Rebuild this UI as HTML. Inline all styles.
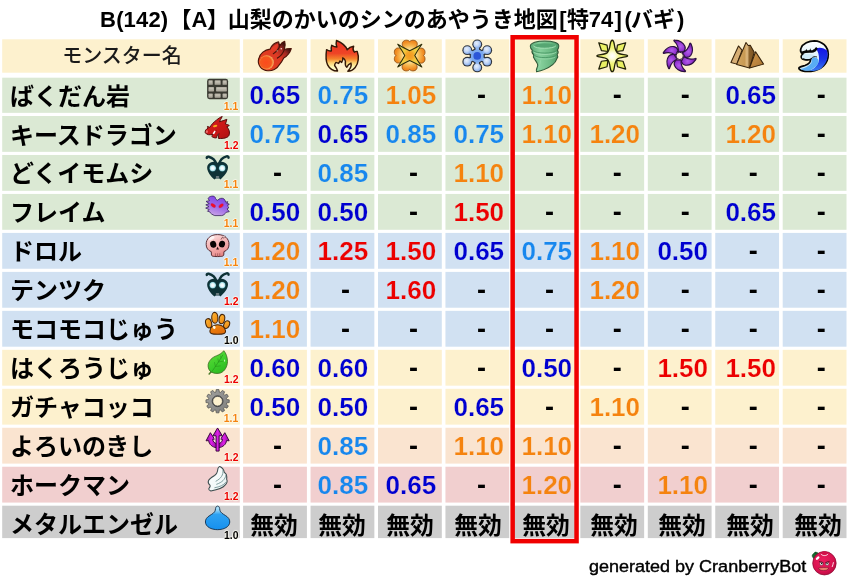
<!DOCTYPE html>
<html lang="ja"><head><meta charset="utf-8"><title>B(142)</title>
<style>
html,body{margin:0;padding:0;background:#fff;}
body{width:849px;height:583px;position:relative;overflow:hidden;font-family:"Liberation Sans","Noto Sans CJK JP",sans-serif;}
.c{position:absolute;}
.t{position:absolute;white-space:nowrap;line-height:1;}
.title{font-weight:700;font-size:22px;color:#000;}
.title span{display:inline-block;}
.hn{font-weight:500;font-size:20px;color:#1a1a1a;}
.nm{font-weight:700;font-size:24px;color:#000;}
.v{font-weight:700;font-size:26.05px;letter-spacing:-0.03px;}
.d{font-weight:700;font-size:27px;color:#000;}
.mk{font-weight:700;font-size:23.8px;color:#000;}
.lv{font-weight:700;font-size:10.4px;letter-spacing:0px;text-shadow:0 0 1px #fffdf0,0 0 1px #fffdf0,0 0 1.5px #fffdf0,0 0 1.5px #fffdf0,0 0 2px #fffdf0,0 0 2px #fffdf0;}
.ic{position:absolute;display:block;overflow:visible;}
.gen{font-weight:400;font-size:16.7px;color:#000;}
</style></head><body>
<svg class="ic" style="left:0;top:0" width="849" height="583" viewBox="0 0 849 583"><rect x="2.20" y="39.30" width="237.60" height="33.40" fill="#fdf1ce"/><rect x="243.10" y="39.30" width="63.80" height="33.40" fill="#fdf1ce"/><rect x="310.55" y="39.30" width="63.80" height="33.40" fill="#fdf1ce"/><rect x="378.00" y="39.30" width="63.80" height="33.40" fill="#fdf1ce"/><rect x="445.45" y="39.30" width="63.80" height="33.40" fill="#fdf1ce"/><rect x="512.90" y="39.30" width="63.80" height="33.40" fill="#fdf1ce"/><rect x="580.35" y="39.30" width="63.80" height="33.40" fill="#fdf1ce"/><rect x="647.80" y="39.30" width="63.80" height="33.40" fill="#fdf1ce"/><rect x="715.25" y="39.30" width="63.80" height="33.40" fill="#fdf1ce"/><rect x="782.70" y="39.30" width="63.80" height="33.40" fill="#fdf1ce"/><rect x="2.20" y="77.70" width="237.60" height="35.15" fill="#dbe9d4"/><rect x="243.10" y="77.70" width="63.80" height="35.15" fill="#dbe9d4"/><rect x="310.55" y="77.70" width="63.80" height="35.15" fill="#dbe9d4"/><rect x="378.00" y="77.70" width="63.80" height="35.15" fill="#dbe9d4"/><rect x="445.45" y="77.70" width="63.80" height="35.15" fill="#dbe9d4"/><rect x="512.90" y="77.70" width="63.80" height="35.15" fill="#dbe9d4"/><rect x="580.35" y="77.70" width="63.80" height="35.15" fill="#dbe9d4"/><rect x="647.80" y="77.70" width="63.80" height="35.15" fill="#dbe9d4"/><rect x="715.25" y="77.70" width="63.80" height="35.15" fill="#dbe9d4"/><rect x="782.70" y="77.70" width="63.80" height="35.15" fill="#dbe9d4"/><rect x="2.20" y="116.00" width="237.60" height="35.85" fill="#dbe9d4"/><rect x="243.10" y="116.00" width="63.80" height="35.85" fill="#dbe9d4"/><rect x="310.55" y="116.00" width="63.80" height="35.85" fill="#dbe9d4"/><rect x="378.00" y="116.00" width="63.80" height="35.85" fill="#dbe9d4"/><rect x="445.45" y="116.00" width="63.80" height="35.85" fill="#dbe9d4"/><rect x="512.90" y="116.00" width="63.80" height="35.85" fill="#dbe9d4"/><rect x="580.35" y="116.00" width="63.80" height="35.85" fill="#dbe9d4"/><rect x="647.80" y="116.00" width="63.80" height="35.85" fill="#dbe9d4"/><rect x="715.25" y="116.00" width="63.80" height="35.85" fill="#dbe9d4"/><rect x="782.70" y="116.00" width="63.80" height="35.85" fill="#dbe9d4"/><rect x="2.20" y="154.97" width="237.60" height="35.85" fill="#dbe9d4"/><rect x="243.10" y="154.97" width="63.80" height="35.85" fill="#dbe9d4"/><rect x="310.55" y="154.97" width="63.80" height="35.85" fill="#dbe9d4"/><rect x="378.00" y="154.97" width="63.80" height="35.85" fill="#dbe9d4"/><rect x="445.45" y="154.97" width="63.80" height="35.85" fill="#dbe9d4"/><rect x="512.90" y="154.97" width="63.80" height="35.85" fill="#dbe9d4"/><rect x="580.35" y="154.97" width="63.80" height="35.85" fill="#dbe9d4"/><rect x="647.80" y="154.97" width="63.80" height="35.85" fill="#dbe9d4"/><rect x="715.25" y="154.97" width="63.80" height="35.85" fill="#dbe9d4"/><rect x="782.70" y="154.97" width="63.80" height="35.85" fill="#dbe9d4"/><rect x="2.20" y="193.94" width="237.60" height="35.85" fill="#dbe9d4"/><rect x="243.10" y="193.94" width="63.80" height="35.85" fill="#dbe9d4"/><rect x="310.55" y="193.94" width="63.80" height="35.85" fill="#dbe9d4"/><rect x="378.00" y="193.94" width="63.80" height="35.85" fill="#dbe9d4"/><rect x="445.45" y="193.94" width="63.80" height="35.85" fill="#dbe9d4"/><rect x="512.90" y="193.94" width="63.80" height="35.85" fill="#dbe9d4"/><rect x="580.35" y="193.94" width="63.80" height="35.85" fill="#dbe9d4"/><rect x="647.80" y="193.94" width="63.80" height="35.85" fill="#dbe9d4"/><rect x="715.25" y="193.94" width="63.80" height="35.85" fill="#dbe9d4"/><rect x="782.70" y="193.94" width="63.80" height="35.85" fill="#dbe9d4"/><rect x="2.20" y="232.91" width="237.60" height="35.85" fill="#d1e1f2"/><rect x="243.10" y="232.91" width="63.80" height="35.85" fill="#d1e1f2"/><rect x="310.55" y="232.91" width="63.80" height="35.85" fill="#d1e1f2"/><rect x="378.00" y="232.91" width="63.80" height="35.85" fill="#d1e1f2"/><rect x="445.45" y="232.91" width="63.80" height="35.85" fill="#d1e1f2"/><rect x="512.90" y="232.91" width="63.80" height="35.85" fill="#d1e1f2"/><rect x="580.35" y="232.91" width="63.80" height="35.85" fill="#d1e1f2"/><rect x="647.80" y="232.91" width="63.80" height="35.85" fill="#d1e1f2"/><rect x="715.25" y="232.91" width="63.80" height="35.85" fill="#d1e1f2"/><rect x="782.70" y="232.91" width="63.80" height="35.85" fill="#d1e1f2"/><rect x="2.20" y="271.88" width="237.60" height="35.85" fill="#d1e1f2"/><rect x="243.10" y="271.88" width="63.80" height="35.85" fill="#d1e1f2"/><rect x="310.55" y="271.88" width="63.80" height="35.85" fill="#d1e1f2"/><rect x="378.00" y="271.88" width="63.80" height="35.85" fill="#d1e1f2"/><rect x="445.45" y="271.88" width="63.80" height="35.85" fill="#d1e1f2"/><rect x="512.90" y="271.88" width="63.80" height="35.85" fill="#d1e1f2"/><rect x="580.35" y="271.88" width="63.80" height="35.85" fill="#d1e1f2"/><rect x="647.80" y="271.88" width="63.80" height="35.85" fill="#d1e1f2"/><rect x="715.25" y="271.88" width="63.80" height="35.85" fill="#d1e1f2"/><rect x="782.70" y="271.88" width="63.80" height="35.85" fill="#d1e1f2"/><rect x="2.20" y="310.85" width="237.60" height="35.85" fill="#d1e1f2"/><rect x="243.10" y="310.85" width="63.80" height="35.85" fill="#d1e1f2"/><rect x="310.55" y="310.85" width="63.80" height="35.85" fill="#d1e1f2"/><rect x="378.00" y="310.85" width="63.80" height="35.85" fill="#d1e1f2"/><rect x="445.45" y="310.85" width="63.80" height="35.85" fill="#d1e1f2"/><rect x="512.90" y="310.85" width="63.80" height="35.85" fill="#d1e1f2"/><rect x="580.35" y="310.85" width="63.80" height="35.85" fill="#d1e1f2"/><rect x="647.80" y="310.85" width="63.80" height="35.85" fill="#d1e1f2"/><rect x="715.25" y="310.85" width="63.80" height="35.85" fill="#d1e1f2"/><rect x="782.70" y="310.85" width="63.80" height="35.85" fill="#d1e1f2"/><rect x="2.20" y="349.82" width="237.60" height="35.85" fill="#fdf1ce"/><rect x="243.10" y="349.82" width="63.80" height="35.85" fill="#fdf1ce"/><rect x="310.55" y="349.82" width="63.80" height="35.85" fill="#fdf1ce"/><rect x="378.00" y="349.82" width="63.80" height="35.85" fill="#fdf1ce"/><rect x="445.45" y="349.82" width="63.80" height="35.85" fill="#fdf1ce"/><rect x="512.90" y="349.82" width="63.80" height="35.85" fill="#fdf1ce"/><rect x="580.35" y="349.82" width="63.80" height="35.85" fill="#fdf1ce"/><rect x="647.80" y="349.82" width="63.80" height="35.85" fill="#fdf1ce"/><rect x="715.25" y="349.82" width="63.80" height="35.85" fill="#fdf1ce"/><rect x="782.70" y="349.82" width="63.80" height="35.85" fill="#fdf1ce"/><rect x="2.20" y="388.79" width="237.60" height="35.85" fill="#fdf1ce"/><rect x="243.10" y="388.79" width="63.80" height="35.85" fill="#fdf1ce"/><rect x="310.55" y="388.79" width="63.80" height="35.85" fill="#fdf1ce"/><rect x="378.00" y="388.79" width="63.80" height="35.85" fill="#fdf1ce"/><rect x="445.45" y="388.79" width="63.80" height="35.85" fill="#fdf1ce"/><rect x="512.90" y="388.79" width="63.80" height="35.85" fill="#fdf1ce"/><rect x="580.35" y="388.79" width="63.80" height="35.85" fill="#fdf1ce"/><rect x="647.80" y="388.79" width="63.80" height="35.85" fill="#fdf1ce"/><rect x="715.25" y="388.79" width="63.80" height="35.85" fill="#fdf1ce"/><rect x="782.70" y="388.79" width="63.80" height="35.85" fill="#fdf1ce"/><rect x="2.20" y="427.76" width="237.60" height="35.85" fill="#fae4d0"/><rect x="243.10" y="427.76" width="63.80" height="35.85" fill="#fae4d0"/><rect x="310.55" y="427.76" width="63.80" height="35.85" fill="#fae4d0"/><rect x="378.00" y="427.76" width="63.80" height="35.85" fill="#fae4d0"/><rect x="445.45" y="427.76" width="63.80" height="35.85" fill="#fae4d0"/><rect x="512.90" y="427.76" width="63.80" height="35.85" fill="#fae4d0"/><rect x="580.35" y="427.76" width="63.80" height="35.85" fill="#fae4d0"/><rect x="647.80" y="427.76" width="63.80" height="35.85" fill="#fae4d0"/><rect x="715.25" y="427.76" width="63.80" height="35.85" fill="#fae4d0"/><rect x="782.70" y="427.76" width="63.80" height="35.85" fill="#fae4d0"/><rect x="2.20" y="466.73" width="237.60" height="35.85" fill="#f1cfcf"/><rect x="243.10" y="466.73" width="63.80" height="35.85" fill="#f1cfcf"/><rect x="310.55" y="466.73" width="63.80" height="35.85" fill="#f1cfcf"/><rect x="378.00" y="466.73" width="63.80" height="35.85" fill="#f1cfcf"/><rect x="445.45" y="466.73" width="63.80" height="35.85" fill="#f1cfcf"/><rect x="512.90" y="466.73" width="63.80" height="35.85" fill="#f1cfcf"/><rect x="580.35" y="466.73" width="63.80" height="35.85" fill="#f1cfcf"/><rect x="647.80" y="466.73" width="63.80" height="35.85" fill="#f1cfcf"/><rect x="715.25" y="466.73" width="63.80" height="35.85" fill="#f1cfcf"/><rect x="782.70" y="466.73" width="63.80" height="35.85" fill="#f1cfcf"/><rect x="2.20" y="505.70" width="237.60" height="32.40" fill="#cdcdcd"/><rect x="243.10" y="505.70" width="63.80" height="32.40" fill="#cdcdcd"/><rect x="310.55" y="505.70" width="63.80" height="32.40" fill="#cdcdcd"/><rect x="378.00" y="505.70" width="63.80" height="32.40" fill="#cdcdcd"/><rect x="445.45" y="505.70" width="63.80" height="32.40" fill="#cdcdcd"/><rect x="512.90" y="505.70" width="63.80" height="32.40" fill="#cdcdcd"/><rect x="580.35" y="505.70" width="63.80" height="32.40" fill="#cdcdcd"/><rect x="647.80" y="505.70" width="63.80" height="32.40" fill="#cdcdcd"/><rect x="715.25" y="505.70" width="63.80" height="32.40" fill="#cdcdcd"/><rect x="782.70" y="505.70" width="63.80" height="32.40" fill="#cdcdcd"/></svg>
<div class="t title" style="left:100.10px;top:8.60px"><span style="width:69.40px;letter-spacing:0.15px">B(142)</span><span style="width:22.00px;">【</span><span style="width:15.35px;">A</span><span style="width:20.95px;">】</span><span style="width:331.55px;">山梨のかいのシンのあやうき地図</span><span style="width:7.65px;">[</span><span style="width:21.80px;">特</span><span style="width:25.85px;">74</span><span style="width:9.85px;">]</span><span style="width:6.50px;">(</span><span style="width:46.15px;">バギ</span><span>)</span></div>
<div class="t hn" style="left:62.25px;top:46.40px;">モンスター名</div>
<svg class="ic" style="left:250.00px;top:36.00px" width="50" height="40" viewBox="0 0 729 583"><defs> <radialGradient id="fbA" cx="0.45" cy="0.5" r="0.55"><stop offset="0" stop-color="#fb4a1c"/><stop offset="0.7" stop-color="#f4581e"/><stop offset="0.9" stop-color="#f6a050"/><stop offset="1" stop-color="#f2b070"/></radialGradient> <linearGradient id="fbB" x1="0.1" y1="0.9" x2="0.95" y2="0.1"><stop offset="0" stop-color="#e8401e"/><stop offset="0.55" stop-color="#dc3a24"/><stop offset="0.75" stop-color="#a02820"/><stop offset="0.92" stop-color="#2a0e0c"/></linearGradient> </defs> <path d="M126 335 C140 250 220 200 292 192 C318 132 368 96 416 86 C420 108 426 124 436 136 C452 112 478 88 506 78 C518 118 512 160 500 196 C530 186 566 182 602 184 C584 242 542 292 492 322 C468 372 444 402 424 424 C396 482 322 512 258 506 C166 498 104 420 126 335 Z" fill="url(#fbB)" stroke="#4e160a" stroke-width="17" stroke-linejoin="round"/> <path d="M296 210 C322 160 366 122 408 104 C412 140 402 180 378 222 Z" fill="#e43c26"/> <path d="M436 138 C422 184 392 224 340 258" fill="none" stroke="#4a140a" stroke-width="17" stroke-linecap="round"/> <path d="M500 198 C486 244 456 286 400 322" fill="none" stroke="#4a140a" stroke-width="17" stroke-linecap="round"/> <circle cx="243" cy="385" r="104" fill="url(#fbA)"/> <circle cx="456" cy="186" r="12" fill="#f2d8d0"/><circle cx="396" cy="216" r="10" fill="#d8b0a8"/></svg>
<svg class="ic" style="left:318.00px;top:36.00px" width="50" height="40" viewBox="0 0 729 583"><defs><linearGradient id="flA" x1="0" y1="65" x2="0" y2="515" gradientUnits="userSpaceOnUse"><stop offset="0" stop-color="#ee3322"/><stop offset="0.42" stop-color="#ee4426"/><stop offset="0.6" stop-color="#f4842c"/><stop offset="0.72" stop-color="#fbd070"/><stop offset="0.85" stop-color="#fdf6b0"/><stop offset="1" stop-color="#ffffd8"/></linearGradient></defs> <path d="M270 65 C330 90 400 130 425 200 C450 170 480 155 520 150 C505 180 510 210 530 235 C545 225 560 222 572 225 C600 300 592 400 542 460 C512 495 470 515 435 515 C470 480 495 440 480 395 C455 405 430 430 420 455 C400 440 395 400 400 370 C395 345 380 325 362 318 C365 345 355 370 345 385 L320 365 L300 400 L262 385 C250 400 240 415 242 430 C260 455 280 480 285 510 C230 510 170 480 140 420 C110 360 115 270 125 200 C150 215 175 225 195 215 C190 185 190 160 200 135 C225 150 250 160 275 160 C262 130 262 95 270 65 Z" fill="url(#flA)" stroke="#341808" stroke-width="21" stroke-linejoin="round"/></svg>
<svg class="ic" style="left:385.00px;top:36.00px" width="50" height="40" viewBox="0 0 729 583"><defs> <radialGradient id="clA" cx="360" cy="285" r="240" gradientUnits="userSpaceOnUse"><stop offset="0.3" stop-color="#fdf0b0"/><stop offset="0.6" stop-color="#f8b850"/><stop offset="0.85" stop-color="#f08a20"/><stop offset="1" stop-color="#ee8418"/></radialGradient> <radialGradient id="clB" cx="360" cy="285" r="200" gradientUnits="userSpaceOnUse"><stop offset="0" stop-color="#f39a20"/><stop offset="0.25" stop-color="#f4a428"/><stop offset="0.5" stop-color="#f2cc40"/><stop offset="1" stop-color="#e4d860"/></radialGradient> </defs> <path transform="rotate(0 360 285)" d="M360 232 C296 196 244 152 252 108 C258 58 330 46 360 82 C392 46 464 58 470 108 C478 152 426 196 360 232 Z" fill="url(#clA)" stroke="#8a4c12" stroke-width="12" stroke-linejoin="round"/><path transform="rotate(90 360 285)" d="M360 232 C296 196 244 152 252 108 C258 58 330 46 360 82 C392 46 464 58 470 108 C478 152 426 196 360 232 Z" fill="url(#clA)" stroke="#8a4c12" stroke-width="12" stroke-linejoin="round"/><path transform="rotate(180 360 285)" d="M360 232 C296 196 244 152 252 108 C258 58 330 46 360 82 C392 46 464 58 470 108 C478 152 426 196 360 232 Z" fill="url(#clA)" stroke="#8a4c12" stroke-width="12" stroke-linejoin="round"/><path transform="rotate(270 360 285)" d="M360 232 C296 196 244 152 252 108 C258 58 330 46 360 82 C392 46 464 58 470 108 C478 152 426 196 360 232 Z" fill="url(#clA)" stroke="#8a4c12" stroke-width="12" stroke-linejoin="round"/> <path d="M185 120 Q280 180 360 214 Q440 180 538 120 Q470 215 434 285 Q470 355 538 452 Q440 390 360 356 Q280 390 185 452 Q252 355 288 285 Q252 215 185 120 Z" fill="url(#clB)" stroke="#2c2c08" stroke-width="15" stroke-linejoin="round"/></svg>
<svg class="ic" style="left:452.00px;top:36.00px" width="50" height="40" viewBox="0 0 729 583"><defs><radialGradient id="icA" cx="0.4" cy="0.35" r="0.7"><stop offset="0" stop-color="#e6effc"/><stop offset="0.5" stop-color="#c2d6f6"/><stop offset="1" stop-color="#7ea8ec"/></radialGradient></defs><line x1="368" y1="290" x2="368" y2="122" stroke="#30343c" stroke-width="84"/><circle cx="368" cy="122" r="72" fill="#30343c"/><line x1="368" y1="290" x2="513" y2="206" stroke="#30343c" stroke-width="84"/><circle cx="513" cy="206" r="72" fill="#30343c"/><line x1="368" y1="290" x2="513" y2="374" stroke="#30343c" stroke-width="84"/><circle cx="513" cy="374" r="72" fill="#30343c"/><line x1="368" y1="290" x2="368" y2="458" stroke="#30343c" stroke-width="84"/><circle cx="368" cy="458" r="72" fill="#30343c"/><line x1="368" y1="290" x2="223" y2="374" stroke="#30343c" stroke-width="84"/><circle cx="223" cy="374" r="72" fill="#30343c"/><line x1="368" y1="290" x2="223" y2="206" stroke="#30343c" stroke-width="84"/><circle cx="223" cy="206" r="72" fill="#30343c"/><circle cx="368" cy="290" r="112" fill="#30343c"/><line x1="368" y1="290" x2="368" y2="122" stroke="#8fb6f0" stroke-width="50"/><circle cx="368" cy="122" r="55" fill="url(#icA)"/><line x1="368" y1="290" x2="513" y2="206" stroke="#8fb6f0" stroke-width="50"/><circle cx="513" cy="206" r="55" fill="url(#icA)"/><line x1="368" y1="290" x2="513" y2="374" stroke="#8fb6f0" stroke-width="50"/><circle cx="513" cy="374" r="55" fill="url(#icA)"/><line x1="368" y1="290" x2="368" y2="458" stroke="#8fb6f0" stroke-width="50"/><circle cx="368" cy="458" r="55" fill="url(#icA)"/><line x1="368" y1="290" x2="223" y2="374" stroke="#8fb6f0" stroke-width="50"/><circle cx="223" cy="374" r="55" fill="url(#icA)"/><line x1="368" y1="290" x2="223" y2="206" stroke="#8fb6f0" stroke-width="50"/><circle cx="223" cy="206" r="55" fill="url(#icA)"/><circle cx="368" cy="290" r="94" fill="#7aa8ee"/><circle cx="368" cy="290" r="56" fill="#2c56d8"/></svg>
<svg class="ic" style="left:520.00px;top:36.00px" width="50" height="40" viewBox="0 0 729 583"><defs><linearGradient id="toA" x1="0" y1="0" x2="1" y2="0"><stop offset="0" stop-color="#5aa874"/><stop offset="0.35" stop-color="#86d09c"/><stop offset="0.7" stop-color="#6cba84"/><stop offset="1" stop-color="#4c9a66"/></linearGradient></defs> <path d="M150 150 C150 100 250 72 360 72 C470 72 568 95 566 145 C565 180 550 195 545 205 C560 225 555 255 540 270 C555 290 550 315 538 330 C520 390 450 450 350 490 C310 505 270 515 240 522 C225 500 250 470 258 430 C262 400 235 370 210 335 C195 320 190 295 200 275 C175 255 170 225 180 205 C160 190 150 170 150 150 Z" fill="url(#toA)" stroke="#2e5838" stroke-width="15" stroke-linejoin="round"/> <ellipse cx="358" cy="142" rx="150" ry="38" fill="#56a672"/> <path d="M200 150 C230 190 490 190 520 148" fill="none" stroke="#a6e2b6" stroke-width="14" stroke-linecap="round"/> <path d="M192 215 C240 262 480 262 535 212" fill="none" stroke="#4a9866" stroke-width="13" stroke-linecap="round"/> <path d="M205 240 C260 282 470 280 525 240" fill="none" stroke="#a0dcb0" stroke-width="12" stroke-linecap="round"/> <path d="M212 285 C260 328 470 325 532 280" fill="none" stroke="#4a9866" stroke-width="13" stroke-linecap="round"/> <path d="M230 312 C280 345 450 345 510 310" fill="none" stroke="#98d8aa" stroke-width="11" stroke-linecap="round"/> <path d="M300 360 C290 420 280 460 262 500" fill="none" stroke="#94d6a8" stroke-width="16" stroke-linecap="round" opacity="0.8"/></svg>
<svg class="ic" style="left:587.00px;top:36.00px" width="50" height="40" viewBox="0 0 729 583"><defs><radialGradient id="stA" cx="368" cy="290" r="220" gradientUnits="userSpaceOnUse"><stop offset="0" stop-color="#ffffff"/><stop offset="0.2" stop-color="#fdfde0"/><stop offset="0.5" stop-color="#f2f57c"/><stop offset="1" stop-color="#e8ee58"/></radialGradient></defs> <polygon points="172,98 292,132 306,226 210,212" fill="#eaf064" stroke="#22220a" stroke-width="18" stroke-linejoin="round"/><polygon points="564,98 444,132 430,226 526,212" fill="#eaf064" stroke="#22220a" stroke-width="18" stroke-linejoin="round"/><polygon points="172,482 292,448 306,354 210,368" fill="#eaf064" stroke="#22220a" stroke-width="18" stroke-linejoin="round"/><polygon points="564,482 444,448 430,354 526,368" fill="#eaf064" stroke="#22220a" stroke-width="18" stroke-linejoin="round"/> <path d="M368 62 C382 62 392 82 398 122 C406 180 420 226 444 246 C466 262 522 268 575 279 C598 284 598 296 575 301 C522 312 466 318 444 334 C420 354 406 400 398 460 C392 500 382 520 368 520 C354 520 344 500 338 460 C330 400 316 354 292 334 C270 318 214 312 161 301 C138 296 138 284 161 279 C214 268 270 262 292 246 C316 226 330 180 338 122 C344 82 354 62 368 62 Z" fill="url(#stA)" stroke="#22220a" stroke-width="19" stroke-linejoin="round"/></svg>
<svg class="ic" style="left:655.00px;top:36.00px" width="50" height="40" viewBox="0 0 729 583"><defs><radialGradient id="swA" cx="10" cy="-140" r="110" gradientUnits="userSpaceOnUse"><stop offset="0" stop-color="#b25cec"/><stop offset="0.55" stop-color="#9436d0"/><stop offset="1" stop-color="#6c1ea0"/></radialGradient></defs><path transform="translate(360 290) rotate(0)" d="M-22 -58 C-12 -118 -38 -176 -84 -220 C-88 -228 -80 -232 -70 -230 C-14 -226 50 -200 76 -140 C88 -110 78 -84 58 -60 Z" fill="url(#swA)" stroke="#2a1040" stroke-width="17" stroke-linejoin="round"/><path transform="translate(360 290) rotate(60)" d="M-22 -58 C-12 -118 -38 -176 -84 -220 C-88 -228 -80 -232 -70 -230 C-14 -226 50 -200 76 -140 C88 -110 78 -84 58 -60 Z" fill="url(#swA)" stroke="#2a1040" stroke-width="17" stroke-linejoin="round"/><path transform="translate(360 290) rotate(120)" d="M-22 -58 C-12 -118 -38 -176 -84 -220 C-88 -228 -80 -232 -70 -230 C-14 -226 50 -200 76 -140 C88 -110 78 -84 58 -60 Z" fill="url(#swA)" stroke="#2a1040" stroke-width="17" stroke-linejoin="round"/><path transform="translate(360 290) rotate(180)" d="M-22 -58 C-12 -118 -38 -176 -84 -220 C-88 -228 -80 -232 -70 -230 C-14 -226 50 -200 76 -140 C88 -110 78 -84 58 -60 Z" fill="url(#swA)" stroke="#2a1040" stroke-width="17" stroke-linejoin="round"/><path transform="translate(360 290) rotate(240)" d="M-22 -58 C-12 -118 -38 -176 -84 -220 C-88 -228 -80 -232 -70 -230 C-14 -226 50 -200 76 -140 C88 -110 78 -84 58 -60 Z" fill="url(#swA)" stroke="#2a1040" stroke-width="17" stroke-linejoin="round"/><path transform="translate(360 290) rotate(300)" d="M-22 -58 C-12 -118 -38 -176 -84 -220 C-88 -228 -80 -232 -70 -230 C-14 -226 50 -200 76 -140 C88 -110 78 -84 58 -60 Z" fill="url(#swA)" stroke="#2a1040" stroke-width="17" stroke-linejoin="round"/><circle cx="360" cy="290" r="53" fill="#fdf1ce" stroke="#2a1040" stroke-width="14"/></svg>
<svg class="ic" style="left:722.00px;top:36.00px" width="50" height="40" viewBox="0 0 729 583"><defs> <linearGradient id="moA" x1="0" y1="0" x2="1" y2="0"><stop offset="0" stop-color="#d2a660"/><stop offset="0.45" stop-color="#c89a54"/><stop offset="0.6" stop-color="#e0bc84"/><stop offset="0.72" stop-color="#8a622c"/><stop offset="1" stop-color="#7c5424"/></linearGradient> <linearGradient id="moB" x1="0" y1="0" x2="1" y2="1"><stop offset="0" stop-color="#d49a4c"/><stop offset="1" stop-color="#a87434"/></linearGradient> </defs> <polygon points="240,145 292,205 216,410 130,385" fill="#d6ae74" stroke="#36220a" stroke-width="15" stroke-linejoin="round"/> <polygon points="350,95 382,138 412,136 470,238 402,466 214,414" fill="url(#moA)" stroke="#36220a" stroke-width="15" stroke-linejoin="round"/> <polygon points="490,230 606,410 402,466" fill="url(#moB)" stroke="#36220a" stroke-width="15" stroke-linejoin="round"/></svg>
<svg class="ic" style="left:789.00px;top:36.00px" width="50" height="40" viewBox="0 0 729 583"><defs> <linearGradient id="waA" x1="0" y1="0" x2="0" y2="1"><stop offset="0" stop-color="#1414e4"/><stop offset="0.5" stop-color="#1a34e8"/><stop offset="1" stop-color="#3a7af0"/></linearGradient> <linearGradient id="waB" x1="0" y1="0" x2="0" y2="1"><stop offset="0" stop-color="#ffffff"/><stop offset="1" stop-color="#c4e8f8"/></linearGradient> </defs> <path d="M150 482 C128 455 176 446 232 430 C292 410 322 370 312 336 C282 350 232 352 194 334 C168 312 176 280 204 262 C176 246 160 214 176 175 C200 110 290 70 370 70 C482 75 572 150 572 270 C572 400 470 500 320 515 C250 520 180 512 150 482 Z" fill="url(#waB)" stroke="#060606" stroke-width="26" stroke-linejoin="round"/> <path d="M390 180 C450 158 516 172 554 212 C574 290 562 384 470 472 C420 502 350 512 300 508 C380 470 432 420 438 340 C440 280 424 225 390 180 Z" fill="url(#waA)"/> <path d="M322 332 C360 296 402 302 428 345 C442 400 400 450 300 502 C250 512 200 506 170 482 C230 466 290 440 324 396 C336 372 332 350 322 332 Z" fill="#58acf4"/> <path d="M212 268 C260 252 332 256 384 292 C352 300 332 316 322 334 C282 348 232 350 198 330 C182 306 190 284 212 268 Z" fill="#cfeaf8"/> <path d="M202 240 C250 224 320 230 352 222 C376 214 390 200 398 184" fill="none" stroke="#060606" stroke-width="36" stroke-linecap="round"/> <path d="M236 228 L252 186 L270 226 Z M292 230 L310 180 L326 228 Z M338 226 L354 192 L366 218 Z" fill="#060606"/> <path d="M206 334 C250 350 300 348 326 332" fill="none" stroke="#060606" stroke-width="20" stroke-linecap="round"/> <path d="M330 322 C350 300 380 292 404 304" fill="none" stroke="#060606" stroke-width="12" stroke-linecap="round"/></svg>
<div class="t nm" style="left:10.00px;top:84.55px">ばくだん岩</div>
<div class="t v" style="left:249.60px;top:81.60px;color:#0000d0;-webkit-text-stroke:0.18px #dbe9d4">0.65</div>
<div class="t v" style="left:317.57px;top:81.60px;color:#1787ee;-webkit-text-stroke:0.18px #dbe9d4">0.75</div>
<div class="t v" style="left:385.54px;top:81.60px;color:#f5830f;-webkit-text-stroke:0.18px #dbe9d4">1.05</div>
<div class="t d" style="left:476.91px;top:81.85px;">-</div>
<div class="t v" style="left:521.48px;top:81.60px;color:#f5830f;-webkit-text-stroke:0.18px #dbe9d4">1.10</div>
<div class="t d" style="left:612.85px;top:81.85px;">-</div>
<div class="t d" style="left:680.82px;top:81.85px;">-</div>
<div class="t v" style="left:725.39px;top:81.60px;color:#0000d0;-webkit-text-stroke:0.18px #dbe9d4">0.65</div>
<div class="t d" style="left:816.76px;top:81.85px;">-</div>
<svg class="ic" style="left:200.00px;top:76.00px" width="45" height="36" viewBox="0 0 729 583"><rect x="115" y="46" width="340" height="330" rx="38" fill="#3a3a32"/><rect x="137" y="70" width="70" height="72" rx="10" fill="#aeaa9e"/><rect x="149" y="80" width="46" height="28" fill="#c2beb2"/><rect x="137" y="285" width="70" height="67" rx="10" fill="#aeaa9e"/><rect x="149" y="295" width="46" height="25" fill="#c2beb2"/><rect x="237" y="70" width="98" height="72" rx="10" fill="#aeaa9e"/><rect x="249" y="80" width="74" height="28" fill="#c2beb2"/><rect x="237" y="285" width="98" height="67" rx="10" fill="#aeaa9e"/><rect x="249" y="295" width="74" height="25" fill="#c2beb2"/><rect x="365" y="70" width="70" height="72" rx="10" fill="#aeaa9e"/><rect x="377" y="80" width="46" height="28" fill="#c2beb2"/><rect x="365" y="285" width="70" height="67" rx="10" fill="#aeaa9e"/><rect x="377" y="295" width="46" height="25" fill="#c2beb2"/><rect x="137" y="180" width="90" height="70" rx="10" fill="#aeaa9e"/><rect x="149" y="190" width="66" height="27" fill="#c2beb2"/><rect x="260" y="180" width="175" height="70" rx="10" fill="#aeaa9e"/><rect x="272" y="190" width="151" height="27" fill="#c2beb2"/></svg>
<div class="t lv" style="left:223.85px;top:102.30px;color:#f5830f">1.1</div>
<div class="t nm" style="left:10.00px;top:123.52px">キースドラゴン</div>
<div class="t v" style="left:249.60px;top:120.60px;color:#1787ee;-webkit-text-stroke:0.18px #dbe9d4">0.75</div>
<div class="t v" style="left:317.57px;top:120.60px;color:#0000d0;-webkit-text-stroke:0.18px #dbe9d4">0.65</div>
<div class="t v" style="left:385.54px;top:120.60px;color:#1787ee;-webkit-text-stroke:0.18px #dbe9d4">0.85</div>
<div class="t v" style="left:453.51px;top:120.60px;color:#1787ee;-webkit-text-stroke:0.18px #dbe9d4">0.75</div>
<div class="t v" style="left:521.48px;top:120.60px;color:#f5830f;-webkit-text-stroke:0.18px #dbe9d4">1.10</div>
<div class="t v" style="left:589.45px;top:120.60px;color:#f5830f;-webkit-text-stroke:0.18px #dbe9d4">1.20</div>
<div class="t d" style="left:680.82px;top:120.85px;">-</div>
<div class="t v" style="left:725.39px;top:120.60px;color:#f5830f;-webkit-text-stroke:0.18px #dbe9d4">1.20</div>
<div class="t d" style="left:816.76px;top:120.85px;">-</div>
<svg class="ic" style="left:200.00px;top:115.00px" width="45" height="36" viewBox="0 0 729 583"><defs><linearGradient id="drA" x1="0" y1="0" x2="1" y2="1"><stop offset="0" stop-color="#da2020"/><stop offset="0.6" stop-color="#c81616"/><stop offset="1" stop-color="#ac1212"/></linearGradient></defs> <path d="M85 285 C80 255 100 225 130 215 L120 185 L160 200 C185 150 230 110 270 80 C300 55 330 35 360 25 C345 55 325 85 315 110 C350 100 400 85 435 70 C430 100 420 125 410 145 C435 150 460 158 475 170 C460 180 445 185 435 190 C470 230 490 280 470 330 C450 370 380 385 300 380 C295 350 300 320 310 300 C290 310 275 330 268 370 C240 375 205 365 190 345 C200 330 205 320 200 310 C160 330 100 320 85 285 Z" fill="url(#drA)" stroke="#560c0c" stroke-width="16" stroke-linejoin="round"/> <path d="M196 312 C215 300 240 285 262 262" fill="none" stroke="#560c0c" stroke-width="12" stroke-linecap="round"/><path d="M203 298 L236 252 L254 268 L228 312 Z" fill="#ffffff"/> <ellipse cx="245" cy="178" rx="36" ry="17" transform="rotate(-16 245 178)" fill="#f8a81c"/> <ellipse cx="112" cy="270" rx="16" ry="22" fill="#ee8a8a" opacity="0.8"/></svg>
<div class="t lv" style="left:223.97px;top:141.35px;color:#ec0000">1.2</div>
<div class="t nm" style="left:10.00px;top:162.49px">どくイモムシ</div>
<div class="t d" style="left:273.00px;top:159.85px;">-</div>
<div class="t v" style="left:317.57px;top:159.60px;color:#1787ee;-webkit-text-stroke:0.18px #dbe9d4">0.85</div>
<div class="t d" style="left:408.94px;top:159.85px;">-</div>
<div class="t v" style="left:453.51px;top:159.60px;color:#f5830f;-webkit-text-stroke:0.18px #dbe9d4">1.10</div>
<div class="t d" style="left:544.88px;top:159.85px;">-</div>
<div class="t d" style="left:612.85px;top:159.85px;">-</div>
<div class="t d" style="left:680.82px;top:159.85px;">-</div>
<div class="t d" style="left:748.79px;top:159.85px;">-</div>
<div class="t d" style="left:816.76px;top:159.85px;">-</div>
<svg class="ic" style="left:200.00px;top:154.00px" width="45" height="36" viewBox="0 0 729 583"><defs><radialGradient id="buA" cx="0.5" cy="0.5" r="0.5"><stop offset="0" stop-color="#ffffff"/><stop offset="0.5" stop-color="#e4f6fa"/><stop offset="0.8" stop-color="#a4dce4"/><stop offset="1" stop-color="#2e7078"/></radialGradient></defs> <path d="M264 166 C250 106 204 60 140 44 C118 40 106 50 110 64" fill="none" stroke="#0e3236" stroke-width="39" stroke-linecap="round"/> <path d="M308 166 C322 104 370 54 430 38 C452 34 466 46 462 60" fill="none" stroke="#0e3236" stroke-width="39" stroke-linecap="round"/> <path d="M285 142 C240 108 150 120 120 190 C100 262 160 342 214 396 L236 412 L256 396 L314 396 L330 412 L352 392 C402 342 470 270 450 190 C420 120 330 108 285 142 Z" fill="#0e3236"/> <circle cx="206" cy="230" r="56" fill="url(#buA)"/><circle cx="360" cy="230" r="56" fill="url(#buA)"/> <rect x="256" y="362" width="56" height="22" rx="10" fill="#8a9498"/></svg>
<div class="t lv" style="left:223.85px;top:180.16px;color:#f5830f">1.1</div>
<div class="t nm" style="left:10.00px;top:201.46px">フレイム</div>
<div class="t v" style="left:249.60px;top:198.60px;color:#0000d0;-webkit-text-stroke:0.18px #dbe9d4">0.50</div>
<div class="t v" style="left:317.57px;top:198.60px;color:#0000d0;-webkit-text-stroke:0.18px #dbe9d4">0.50</div>
<div class="t d" style="left:408.94px;top:198.85px;">-</div>
<div class="t v" style="left:453.51px;top:198.60px;color:#ec0000;-webkit-text-stroke:0.18px #dbe9d4">1.50</div>
<div class="t d" style="left:544.88px;top:198.85px;">-</div>
<div class="t d" style="left:612.85px;top:198.85px;">-</div>
<div class="t d" style="left:680.82px;top:198.85px;">-</div>
<div class="t v" style="left:725.39px;top:198.60px;color:#0000d0;-webkit-text-stroke:0.18px #dbe9d4">0.65</div>
<div class="t d" style="left:816.76px;top:198.85px;">-</div>
<svg class="ic" style="left:200.00px;top:193.00px" width="45" height="36" viewBox="0 0 729 583"><defs><linearGradient id="ghA" x1="0.7" y1="0" x2="0.3" y2="1"><stop offset="0" stop-color="#7a3ee8"/><stop offset="0.5" stop-color="#9a66e8"/><stop offset="1" stop-color="#caa4e6"/></linearGradient></defs> <path d="M132 92 C140 50 225 35 245 70 C252 95 262 112 288 118 C310 88 352 74 386 94 C402 108 412 128 416 148 L450 140 L436 172 L474 178 L444 212 L470 236 L438 258 L474 302 L424 312 C404 342 382 360 352 366 L240 366 C200 352 170 332 154 302 L122 296 L148 268 L92 244 L146 220 L94 192 L150 172 L98 136 L154 124 Z" fill="url(#ghA)" stroke="#36205c" stroke-width="13" stroke-linejoin="round"/> <ellipse cx="214" cy="202" rx="50" ry="30" transform="rotate(32 214 202)" fill="#b02090" opacity="0.6"/><ellipse cx="214" cy="202" rx="42" ry="23" transform="rotate(32 214 202)" fill="#f01028"/> <ellipse cx="342" cy="206" rx="50" ry="30" transform="rotate(-40 342 206)" fill="#b02090" opacity="0.6"/><ellipse cx="342" cy="206" rx="42" ry="23" transform="rotate(-40 342 206)" fill="#f01028"/></svg>
<div class="t lv" style="left:223.85px;top:219.09px;color:#f5830f">1.1</div>
<div class="t nm" style="left:10.00px;top:240.43px">ドロル</div>
<div class="t v" style="left:249.60px;top:237.60px;color:#f5830f;-webkit-text-stroke:0.18px #d1e1f2">1.20</div>
<div class="t v" style="left:317.57px;top:237.60px;color:#ec0000;-webkit-text-stroke:0.18px #d1e1f2">1.25</div>
<div class="t v" style="left:385.54px;top:237.60px;color:#ec0000;-webkit-text-stroke:0.18px #d1e1f2">1.50</div>
<div class="t v" style="left:453.51px;top:237.60px;color:#0000d0;-webkit-text-stroke:0.18px #d1e1f2">0.65</div>
<div class="t v" style="left:521.48px;top:237.60px;color:#1787ee;-webkit-text-stroke:0.18px #d1e1f2">0.75</div>
<div class="t v" style="left:589.45px;top:237.60px;color:#f5830f;-webkit-text-stroke:0.18px #d1e1f2">1.10</div>
<div class="t v" style="left:657.42px;top:237.60px;color:#0000d0;-webkit-text-stroke:0.18px #d1e1f2">0.50</div>
<div class="t d" style="left:748.79px;top:237.85px;">-</div>
<div class="t d" style="left:816.76px;top:237.85px;">-</div>
<svg class="ic" style="left:200.00px;top:232.00px" width="45" height="36" viewBox="0 0 729 583"><defs><linearGradient id="skA" x1="0.2" y1="0" x2="0.6" y2="1"><stop offset="0" stop-color="#fde4e4"/><stop offset="0.35" stop-color="#f6bcbc"/><stop offset="0.8" stop-color="#ee9a9a"/><stop offset="1" stop-color="#e08080"/></linearGradient></defs> <path d="M285 42 C400 40 472 110 470 200 C470 260 440 300 388 318 L385 372 C380 392 360 398 285 398 C210 398 190 392 186 372 L182 318 C130 300 100 260 100 200 C98 110 170 40 285 42 Z" fill="url(#skA)" stroke="#4e2228" stroke-width="15" stroke-linejoin="round"/> <ellipse cx="214" cy="200" rx="50" ry="56" transform="rotate(-12 214 200)" fill="#080404"/> <ellipse cx="356" cy="196" rx="50" ry="54" transform="rotate(12 356 196)" fill="#080404"/> <path d="M285 240 L308 285 L262 285 Z" fill="#2a1014"/> <path d="M250 345 L250 392 M285 345 L285 394 M320 345 L320 392" stroke="#8a4a50" stroke-width="10"/> <path d="M340 122 L366 82 L388 100 L404 62" fill="none" stroke="#4e2228" stroke-width="11"/><path d="M372 78 L392 92 L404 66 Z" fill="#fff4f4"/> <ellipse cx="190" cy="100" rx="50" ry="26" transform="rotate(-30 190 100)" fill="#ffffff" opacity="0.75"/></svg>
<div class="t lv" style="left:223.85px;top:258.02px;color:#f5830f">1.1</div>
<div class="t nm" style="left:10.00px;top:279.40px">テンツク</div>
<div class="t v" style="left:249.60px;top:276.60px;color:#f5830f;-webkit-text-stroke:0.18px #d1e1f2">1.20</div>
<div class="t d" style="left:340.97px;top:276.85px;">-</div>
<div class="t v" style="left:385.54px;top:276.60px;color:#ec0000;-webkit-text-stroke:0.18px #d1e1f2">1.60</div>
<div class="t d" style="left:476.91px;top:276.85px;">-</div>
<div class="t d" style="left:544.88px;top:276.85px;">-</div>
<div class="t v" style="left:589.45px;top:276.60px;color:#f5830f;-webkit-text-stroke:0.18px #d1e1f2">1.20</div>
<div class="t d" style="left:680.82px;top:276.85px;">-</div>
<div class="t d" style="left:748.79px;top:276.85px;">-</div>
<div class="t d" style="left:816.76px;top:276.85px;">-</div>
<svg class="ic" style="left:200.00px;top:270.91px" width="45" height="36" viewBox="0 0 729 583"><defs><radialGradient id="buAb" cx="0.5" cy="0.5" r="0.5"><stop offset="0" stop-color="#ffffff"/><stop offset="0.5" stop-color="#e4f6fa"/><stop offset="0.8" stop-color="#a4dce4"/><stop offset="1" stop-color="#2e7078"/></radialGradient></defs> <path d="M264 166 C250 106 204 60 140 44 C118 40 106 50 110 64" fill="none" stroke="#0e3236" stroke-width="39" stroke-linecap="round"/> <path d="M308 166 C322 104 370 54 430 38 C452 34 466 46 462 60" fill="none" stroke="#0e3236" stroke-width="39" stroke-linecap="round"/> <path d="M285 142 C240 108 150 120 120 190 C100 262 160 342 214 396 L236 412 L256 396 L314 396 L330 412 L352 392 C402 342 470 270 450 190 C420 120 330 108 285 142 Z" fill="#0e3236"/> <circle cx="206" cy="230" r="56" fill="url(#buAb)"/><circle cx="360" cy="230" r="56" fill="url(#buAb)"/> <rect x="256" y="362" width="56" height="22" rx="10" fill="#8a9498"/></svg>
<div class="t lv" style="left:223.97px;top:297.07px;color:#ec0000">1.2</div>
<div class="t nm" style="left:10.00px;top:318.37px">モコモコじゅう</div>
<div class="t v" style="left:249.60px;top:315.60px;color:#f5830f;-webkit-text-stroke:0.18px #d1e1f2">1.10</div>
<div class="t d" style="left:340.97px;top:315.85px;">-</div>
<div class="t d" style="left:408.94px;top:315.85px;">-</div>
<div class="t d" style="left:476.91px;top:315.85px;">-</div>
<div class="t d" style="left:544.88px;top:315.85px;">-</div>
<div class="t d" style="left:612.85px;top:315.85px;">-</div>
<div class="t d" style="left:680.82px;top:315.85px;">-</div>
<div class="t d" style="left:748.79px;top:315.85px;">-</div>
<div class="t d" style="left:816.76px;top:315.85px;">-</div>
<svg class="ic" style="left:200.00px;top:310.00px" width="45" height="36" viewBox="0 0 729 583"><defs><linearGradient id="paA" x1="0" y1="0" x2="1" y2="1"><stop offset="0" stop-color="#fbb838"/><stop offset="0.6" stop-color="#f4981c"/><stop offset="1" stop-color="#e8820e"/></linearGradient> <linearGradient id="paB" x1="0" y1="0" x2="0.6" y2="1"><stop offset="0" stop-color="#f6a020"/><stop offset="0.5" stop-color="#ea7a0c"/><stop offset="1" stop-color="#e06c08"/></linearGradient></defs> <ellipse cx="140" cy="215" rx="48" ry="76" transform="rotate(-14 140 215)" fill="url(#paA)" stroke="#46260a" stroke-width="17"/><ellipse cx="240" cy="126" rx="50" ry="88" transform="rotate(-2 240 126)" fill="url(#paA)" stroke="#46260a" stroke-width="17"/><ellipse cx="355" cy="146" rx="45" ry="76" transform="rotate(10 355 146)" fill="url(#paA)" stroke="#46260a" stroke-width="17"/><ellipse cx="432" cy="236" rx="44" ry="64" transform="rotate(24 432 236)" fill="url(#paA)" stroke="#46260a" stroke-width="17"/> <path d="M160 340 C165 280 220 238 285 238 C350 238 408 280 414 340 C416 375 395 392 285 394 C180 392 158 375 160 340 Z" fill="url(#paB)" stroke="#46260a" stroke-width="17" stroke-linejoin="round"/> <ellipse cx="230" cy="280" rx="22" ry="26" transform="rotate(-30 230 280)" fill="#fff6e0"/></svg>
<div class="t lv" style="left:223.97px;top:336.00px;color:#000000">1.0</div>
<div class="t nm" style="left:10.00px;top:357.34px">はくろうじゅ</div>
<div class="t v" style="left:249.60px;top:354.60px;color:#0000d0;-webkit-text-stroke:0.18px #fdf1ce">0.60</div>
<div class="t v" style="left:317.57px;top:354.60px;color:#0000d0;-webkit-text-stroke:0.18px #fdf1ce">0.60</div>
<div class="t d" style="left:408.94px;top:354.85px;">-</div>
<div class="t d" style="left:476.91px;top:354.85px;">-</div>
<div class="t v" style="left:521.48px;top:354.60px;color:#0000d0;-webkit-text-stroke:0.18px #fdf1ce">0.50</div>
<div class="t d" style="left:612.85px;top:354.85px;">-</div>
<div class="t v" style="left:657.42px;top:354.60px;color:#ec0000;-webkit-text-stroke:0.18px #fdf1ce">1.50</div>
<div class="t v" style="left:725.39px;top:354.60px;color:#ec0000;-webkit-text-stroke:0.18px #fdf1ce">1.50</div>
<div class="t d" style="left:816.76px;top:354.85px;">-</div>
<svg class="ic" style="left:200.00px;top:348.00px" width="45" height="36" viewBox="0 0 729 583"><defs><linearGradient id="leA" x1="0.2" y1="0" x2="0.7" y2="1"><stop offset="0" stop-color="#5ede38"/><stop offset="0.6" stop-color="#3ccc2a"/><stop offset="1" stop-color="#2cb820"/></linearGradient></defs> <path d="M185 380 L148 420" stroke="#4a7a2a" stroke-width="24" stroke-linecap="round"/> <path d="M385 44 C420 80 445 150 445 215 C445 300 400 380 330 405 C280 420 225 410 185 392 C150 370 125 320 132 270 C145 200 200 150 270 125 C320 105 360 80 385 44 Z" fill="url(#leA)" stroke="#3a6a20" stroke-width="13" stroke-linejoin="round"/> <path d="M190 385 C250 300 320 200 368 115" fill="none" stroke="#2a9a1c" stroke-width="13" stroke-linecap="round"/> <path d="M250 300 L235 235 M250 300 L330 290 M300 225 L290 175 M300 225 L370 215 M340 165 L335 130" stroke="#2a9a1c" stroke-width="10" stroke-linecap="round"/> <ellipse cx="398" cy="205" rx="10" ry="18" fill="#d8ffd0" opacity="0.8"/></svg>
<div class="t lv" style="left:223.97px;top:374.94px;color:#ec0000">1.2</div>
<div class="t nm" style="left:10.00px;top:396.31px">ガチャコッコ</div>
<div class="t v" style="left:249.60px;top:393.60px;color:#0000d0;-webkit-text-stroke:0.18px #fdf1ce">0.50</div>
<div class="t v" style="left:317.57px;top:393.60px;color:#0000d0;-webkit-text-stroke:0.18px #fdf1ce">0.50</div>
<div class="t d" style="left:408.94px;top:393.85px;">-</div>
<div class="t v" style="left:453.51px;top:393.60px;color:#0000d0;-webkit-text-stroke:0.18px #fdf1ce">0.65</div>
<div class="t d" style="left:544.88px;top:393.85px;">-</div>
<div class="t v" style="left:589.45px;top:393.60px;color:#f5830f;-webkit-text-stroke:0.18px #fdf1ce">1.10</div>
<div class="t d" style="left:680.82px;top:393.85px;">-</div>
<div class="t d" style="left:748.79px;top:393.85px;">-</div>
<div class="t d" style="left:816.76px;top:393.85px;">-</div>
<svg class="ic" style="left:200.00px;top:387.00px" width="45" height="36" viewBox="0 0 729 583"><defs><linearGradient id="geA" x1="0" y1="0" x2="1" y2="1"><stop offset="0" stop-color="#a2a2a0"/><stop offset="1" stop-color="#7e7e7c"/></linearGradient></defs><path d="M256.7 82.7 L263.2 41.3 L306.8 41.3 L313.3 82.7 L334.1 88.3 L360.5 55.6 L398.3 77.4 L383.2 116.6 L398.4 131.8 L437.6 116.7 L459.4 154.5 L426.7 180.9 L432.3 201.7 L473.7 208.2 L473.7 251.8 L432.3 258.3 L426.7 279.1 L459.4 305.5 L437.6 343.3 L398.4 328.2 L383.2 343.4 L398.3 382.6 L360.5 404.4 L334.1 371.7 L313.3 377.3 L306.8 418.7 L263.2 418.7 L256.7 377.3 L235.9 371.7 L209.5 404.4 L171.7 382.6 L186.8 343.4 L171.6 328.2 L132.4 343.3 L110.6 305.5 L143.3 279.1 L137.7 258.3 L96.3 251.8 L96.3 208.2 L137.7 201.7 L143.3 180.9 L110.6 154.5 L132.4 116.7 L171.6 131.8 L186.8 116.6 L171.7 77.4 L209.5 55.6 L235.9 88.3 Z M 285 230 m -78 0 a 78 78 0 1 0 156 0 a 78 78 0 1 0 -156 0 Z" fill="url(#geA)" fill-rule="evenodd" stroke="#4a4a48" stroke-width="11" stroke-linejoin="round"/><circle cx="285" cy="230" r="88" fill="none" stroke="#3c3c3c" stroke-width="14"/></svg>
<div class="t lv" style="left:223.85px;top:413.74px;color:#f5830f">1.1</div>
<div class="t nm" style="left:10.00px;top:435.28px">よろいのきし</div>
<div class="t d" style="left:273.00px;top:432.85px;">-</div>
<div class="t v" style="left:317.57px;top:432.60px;color:#1787ee;-webkit-text-stroke:0.18px #fae4d0">0.85</div>
<div class="t d" style="left:408.94px;top:432.85px;">-</div>
<div class="t v" style="left:453.51px;top:432.60px;color:#f5830f;-webkit-text-stroke:0.18px #fae4d0">1.10</div>
<div class="t v" style="left:521.48px;top:432.60px;color:#f5830f;-webkit-text-stroke:0.18px #fae4d0">1.10</div>
<div class="t d" style="left:612.85px;top:432.85px;">-</div>
<div class="t d" style="left:680.82px;top:432.85px;">-</div>
<div class="t d" style="left:748.79px;top:432.85px;">-</div>
<div class="t d" style="left:816.76px;top:432.85px;">-</div>
<svg class="ic" style="left:200.00px;top:426.00px" width="45" height="36" viewBox="0 0 729 583"><defs><linearGradient id="trA" x1="0" y1="0" x2="1" y2="0"><stop offset="0" stop-color="#9c0ea8"/><stop offset="0.5" stop-color="#dc20e6"/><stop offset="1" stop-color="#960ca0"/></linearGradient></defs> <g fill="url(#trA)" stroke="#3a0840" stroke-width="16" stroke-linejoin="round"> <path d="M168 108 L236 212 L204 218 C212 256 238 280 270 288 L270 352 C196 342 146 296 140 236 L98 240 Z"/> <path d="M402 108 L334 212 L366 218 C358 256 332 280 300 288 L300 352 C374 342 424 296 430 236 L472 240 Z"/> <path d="M285 32 L360 158 L310 158 L310 406 L260 406 L260 158 L210 158 Z"/> </g> <circle cx="238" cy="195" r="10" fill="#f4d8f0"/><circle cx="238" cy="245" r="10" fill="#f4d8f0"/><circle cx="334" cy="195" r="10" fill="#f4d8f0"/><circle cx="334" cy="245" r="10" fill="#f4d8f0"/></svg>
<div class="t lv" style="left:223.97px;top:452.80px;color:#ec0000">1.2</div>
<div class="t nm" style="left:10.00px;top:474.25px">ホークマン</div>
<div class="t d" style="left:273.00px;top:471.85px;">-</div>
<div class="t v" style="left:317.57px;top:471.60px;color:#1787ee;-webkit-text-stroke:0.18px #f1cfcf">0.85</div>
<div class="t v" style="left:385.54px;top:471.60px;color:#0000d0;-webkit-text-stroke:0.18px #f1cfcf">0.65</div>
<div class="t d" style="left:476.91px;top:471.85px;">-</div>
<div class="t v" style="left:521.48px;top:471.60px;color:#f5830f;-webkit-text-stroke:0.18px #f1cfcf">1.20</div>
<div class="t d" style="left:612.85px;top:471.85px;">-</div>
<div class="t v" style="left:657.42px;top:471.60px;color:#f5830f;-webkit-text-stroke:0.18px #f1cfcf">1.10</div>
<div class="t d" style="left:748.79px;top:471.85px;">-</div>
<div class="t d" style="left:816.76px;top:471.85px;">-</div>
<svg class="ic" style="left:200.00px;top:465.00px" width="45" height="36" viewBox="0 0 729 583"><defs><linearGradient id="wiA" x1="0" y1="0" x2="1" y2="1"><stop offset="0" stop-color="#ffffff"/><stop offset="0.7" stop-color="#f0f8f8"/><stop offset="1" stop-color="#c8dede"/></linearGradient></defs> <path d="M320 24 C360 40 388 80 394 122 C425 135 440 160 432 232 C448 262 440 296 402 330 C372 368 300 396 176 422 C150 410 138 396 142 384 C160 362 170 344 164 330 C140 310 128 280 136 258 C150 222 190 196 236 170 C270 148 286 100 290 60 C295 40 305 28 320 24 Z" fill="url(#wiA)" stroke="#3c4c4e" stroke-width="17" stroke-linejoin="round"/> <path d="M372 90 C380 160 340 220 260 262" fill="none" stroke="#64888a" stroke-width="13" stroke-linecap="round"/> <path d="M418 170 C410 230 360 280 270 312" fill="none" stroke="#64888a" stroke-width="13" stroke-linecap="round"/> <path d="M415 285 C380 330 320 352 240 368" fill="none" stroke="#64888a" stroke-width="13" stroke-linecap="round"/></svg>
<div class="t lv" style="left:223.97px;top:491.73px;color:#ec0000">1.2</div>
<div class="t nm" style="left:10.00px;top:513.22px">メタルエンゼル</div>
<div class="t mk" style="left:250.25px;top:513.65px;">無効</div>
<div class="t mk" style="left:318.25px;top:513.65px;">無効</div>
<div class="t mk" style="left:386.25px;top:513.65px;">無効</div>
<div class="t mk" style="left:454.25px;top:513.65px;">無効</div>
<div class="t mk" style="left:522.25px;top:513.65px;">無効</div>
<div class="t mk" style="left:590.25px;top:513.65px;">無効</div>
<div class="t mk" style="left:658.25px;top:513.65px;">無効</div>
<div class="t mk" style="left:726.25px;top:513.65px;">無効</div>
<div class="t mk" style="left:794.25px;top:513.65px;">無効</div>
<svg class="ic" style="left:200.00px;top:504.00px" width="45" height="36" viewBox="0 0 729 583"><defs><linearGradient id="slA" x1="0" y1="30" x2="0" y2="415" gradientUnits="userSpaceOnUse"><stop offset="0" stop-color="#c4ecfc"/><stop offset="0.2" stop-color="#8ad0f8"/><stop offset="0.36" stop-color="#2ea2f2"/><stop offset="1" stop-color="#1690ee"/></linearGradient></defs> <path d="M285 34 C310 34 318 60 322 100 C330 140 370 160 410 185 C460 215 484 250 482 292 C478 370 390 415 285 416 C180 415 92 370 88 292 C86 250 110 215 160 185 C200 160 240 140 248 100 C252 60 260 34 285 34 Z" fill="url(#slA)" stroke="#0a2a48" stroke-width="14" stroke-linejoin="round"/></svg>
<div class="t lv" style="left:223.97px;top:530.65px;color:#000000">1.0</div>
<svg class="ic" style="left:0;top:0" width="849" height="583" viewBox="0 0 849 583"><rect x="512.65" y="37.25" width="63.90" height="503.90" fill="none" stroke="#f00000" stroke-width="4.5"/></svg>
<div class="t gen" style="left:588.65px;top:558.90px;transform-origin:0 0;transform:scaleX(1.079);-webkit-text-stroke:0.4px #000">generated by CranberryBot</div>
<svg class="ic" style="left:805.00px;top:545.00px" width="44" height="36" viewBox="0 0 713 583"><defs><radialGradient id="crA" cx="0.42" cy="0.4" r="0.65"><stop offset="0" stop-color="#ec1e5e"/><stop offset="0.7" stop-color="#d81250"/><stop offset="1" stop-color="#b80c40"/></radialGradient></defs> <path d="M200 175 C160 120 140 120 175 115 L215 128 L230 160 Z M120 190 C105 160 140 130 175 118 L220 165 L150 235 Z" fill="#1a6a30" stroke="#0e4a20" stroke-width="8"/> <circle cx="315" cy="295" r="190" fill="url(#crA)" stroke="#8c0a32" stroke-width="12"/> <ellipse cx="315" cy="128" rx="48" ry="26" fill="#d01048"/> <path d="M262 150 C280 180 350 180 370 150" fill="none" stroke="#ffffff" stroke-width="14" stroke-linecap="round"/> <ellipse cx="205" cy="212" rx="36" ry="20" transform="rotate(-40 205 212)" fill="#ffffff"/> <path d="M460 285 C455 310 450 330 442 350" fill="none" stroke="#ffffff" stroke-width="14" stroke-linecap="round"/> <circle cx="266" cy="302" r="28" fill="#f4f4f4" stroke="#3a0a18" stroke-width="7"/><circle cx="270" cy="300" r="12" fill="#101010"/> <circle cx="360" cy="302" r="28" fill="#f4f4f4" stroke="#3a0a18" stroke-width="7"/><circle cx="358" cy="300" r="12" fill="#101010"/> <path d="M232 268 L292 288 M392 268 L334 288" stroke="#3a0a18" stroke-width="11" stroke-linecap="round"/><path d="M215 378 C250 362 350 362 385 372 C378 402 340 412 300 412 C260 412 225 402 215 378 Z" fill="#f28474" stroke="#6a0a28" stroke-width="9" stroke-linejoin="round"/></svg>
</body></html>
